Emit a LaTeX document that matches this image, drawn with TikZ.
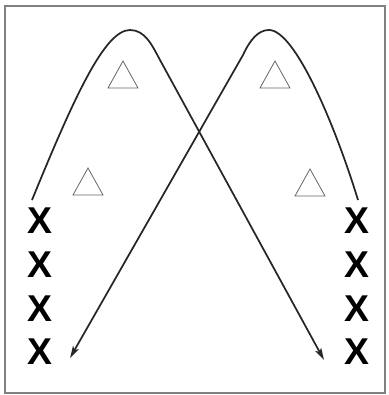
\documentclass[tikz,border=0pt]{standalone}
\usepackage{fontspec}
\setmainfont{Liberation Sans}
\usetikzlibrary{arrows.meta, positioning}

\begin{document}
\begin{tikzpicture}[
  x=0.75pt, y=-0.75pt,
  % ---- styles ----
  player/.style={%
    font=\fontsize{28}{28}\selectfont\bfseries, inner sep=0pt, outer sep=0pt,
  },
  cone/.style={draw=black!60, line width=0.6pt, line join=miter},
  run/.style={draw=black!85, line width=1.3pt,
    -{Stealth[length=9pt, width=5pt, inset=2pt]}},
  frame/.style={draw=black!50, line width=1.3pt},
]

\def\xgap{13.5pt}   % gap between two X in a column

\useasboundingbox (0,0) rectangle (388,395);
\draw[frame] (5,6) rectangle (385,393);

% =========================================================
% players, left column and right column
% =========================================================
\node[player]                    (xl1) at (40,221) {X};
\node[player, below=\xgap of xl1] (xl2)           {X};
\node[player, below=\xgap of xl2] (xl3)           {X};
\node[player, below=\xgap of xl3] (xl4)           {X};

\node[player]                    (xr1) at (357,221) {X};
\node[player, below=\xgap of xr1] (xr2)           {X};
\node[player, below=\xgap of xr2] (xr3)           {X};
\node[player, below=\xgap of xr3] (xr4)           {X};

% =========================================================
% cones (apex points)
% =========================================================
\foreach \ax/\ay in {123/61, 88/168, 275/61, 310/169}
  \draw[cone] (\ax,\ay) -- ++(-15,27) -- ++(30,0) -- cycle;

% =========================================================
% runs: start above a column, arc over, end beside the other column
% =========================================================
\coordinate (lstart) at (32,200);
\coordinate (ltip)   at (324,360);
\coordinate (rstart) at (358,200);
\coordinate (rtip)   at (70,358);

\draw[run] (lstart) .. controls (75,95) and (105,30) .. (130,30)
  .. controls (145,30) and (152,45) .. (160,60) -- (ltip);

\draw[run] (rstart) .. controls (335,125) and (295,30) .. (269,30)
  .. controls (258,30) and (250,40) .. (243,55) -- (rtip);

\end{tikzpicture}
\end{document}
